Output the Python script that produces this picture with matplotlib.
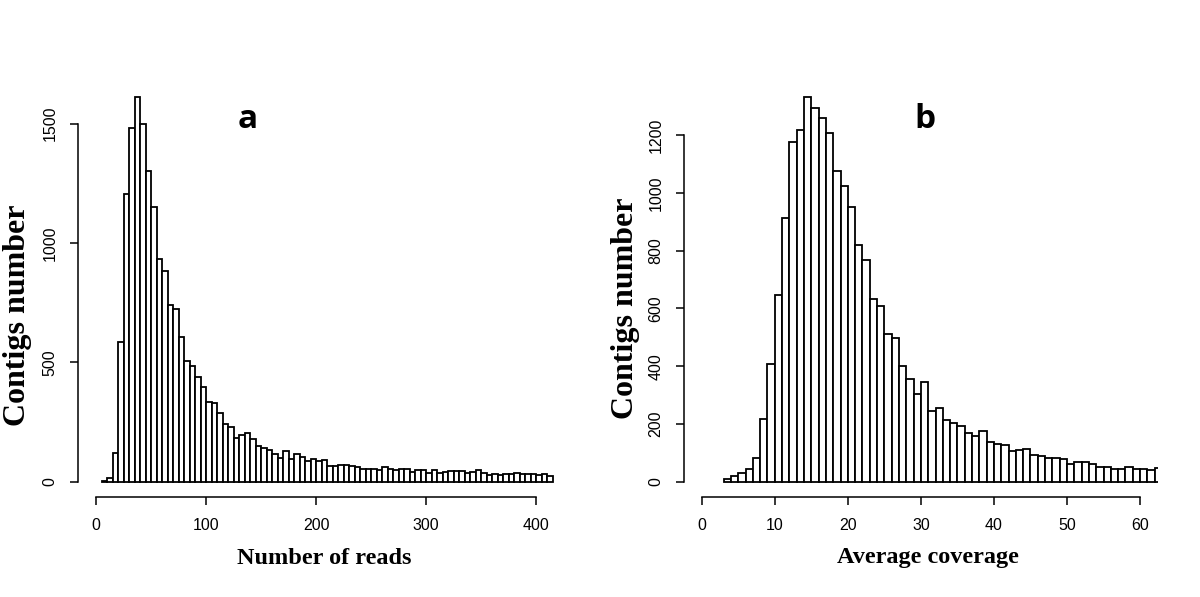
import numpy as np
import matplotlib.pyplot as plt

# panel a: contigs per 5-read bin (left edge of bin -> count)
reads_edges = list(range(5, 415, 5))
reads_counts = [4, 15, 122, 583, 1204, 1482, 1610, 1499, 1303, 1151,
                934, 884, 741, 723, 605, 507, 485, 440, 395, 335,
                331, 286, 240, 228, 182, 197, 204, 178, 151, 139,
                134, 114, 98, 128, 94, 116, 103, 86, 94, 86,
                90, 67, 65, 68, 70, 66, 63, 55, 52, 52,
                48, 60, 55, 50, 55, 53, 42, 47, 47, 38,
                47, 36, 40, 43, 43, 43, 36, 40, 47, 37,
                27, 33, 28, 32, 33, 35, 34, 33, 30, 29,
                30, 25]

# panel b: contigs per unit of average coverage
cov_edges = list(range(3, 63))
cov_counts = [8, 21, 30, 45, 81, 218, 406, 646, 912, 1178,
              1217, 1331, 1295, 1259, 1207, 1075, 1024, 950, 819, 766,
              632, 607, 511, 498, 402, 356, 304, 346, 246, 254,
              215, 202, 194, 170, 157, 177, 139, 131, 126, 107,
              110, 113, 92, 88, 81, 81, 77, 62, 67, 67,
              60, 52, 52, 43, 43, 49, 43, 45, 39, 46]

reads_xticks = [0, 100, 200, 300, 400]
reads_yticks = [0, 500, 1000, 1500]
cov_xticks = [0, 10, 20, 30, 40, 50, 60]
cov_yticks = [0, 200, 400, 600, 800, 1000, 1200]

W, H = 1200, 597
fig = plt.figure(figsize=(W / 100, H / 100), dpi=100)


def px(x, y):
    return x / W, (H - y) / H


def draw(rect, edges, counts, width, xlim, xticks, yticks, xlabel, xlab_pos, ylab_pos):
    ax = fig.add_axes(rect)
    ax.bar(edges, counts, width=width, align='edge', color='white',
           edgecolor='black', linewidth=1.3)
    top = max(counts)
    ax.set_xlim(*xlim)
    ax.set_ylim(-0.04 * top, 1.04 * top)
    ax.set_xticks(xticks)
    ax.set_yticks(yticks)
    for s in ['top', 'right']:
        ax.spines[s].set_visible(False)
    ax.spines['bottom'].set_bounds(xticks[0], xticks[-1])
    ax.spines['left'].set_bounds(yticks[0], yticks[-1])
    for s in ['bottom', 'left']:
        ax.spines[s].set_linewidth(1.1)
    ax.tick_params(direction='out', length=6, width=1.1, pad=9,
                   labelsize=11.5, colors='black')
    for lab in ax.get_xticklabels() + ax.get_yticklabels():
        lab.set_fontfamily('Liberation Sans')
    for lab in ax.get_yticklabels():
        lab.set_rotation(90)
        lab.set_va('center')
    ax.set_xlabel(xlabel, fontfamily='Liberation Serif', fontweight='bold', fontsize=17.5)
    ax.xaxis.label.set_va('center')
    ax.xaxis.set_label_coords(*px(*xlab_pos), transform=fig.transFigure)
    ax.set_ylabel('Contigs number', fontfamily='Liberation Serif', fontweight='bold', fontsize=23)
    ax.yaxis.label.set_va('center')
    ax.yaxis.set_label_coords(*px(*ylab_pos), transform=fig.transFigure)
    return ax


ax_a = draw([78.4 / W, 100 / H, 475.2 / W, 415 / H], reads_edges, reads_counts, 5,
            (-16, 416), reads_xticks, reads_yticks, 'Number of reads', (324, 558), (18, 315))
ax_b = draw([684.2 / W, 100 / H, 473.4 / W, 415 / H], cov_edges, cov_counts, 1,
            (-2.4, 62.4), cov_xticks, cov_yticks, 'Average coverage', (928, 558), (625, 308))

fig.text(*px(248, 128), 'a', fontfamily='Open Sans', fontweight='bold', fontsize=24,
         ha='center', va='baseline')
fig.text(*px(925, 128), 'b', fontfamily='Open Sans', fontweight='bold', fontsize=24,
         ha='center', va='baseline')

fig.savefig('out.png', dpi=100, facecolor='white')
